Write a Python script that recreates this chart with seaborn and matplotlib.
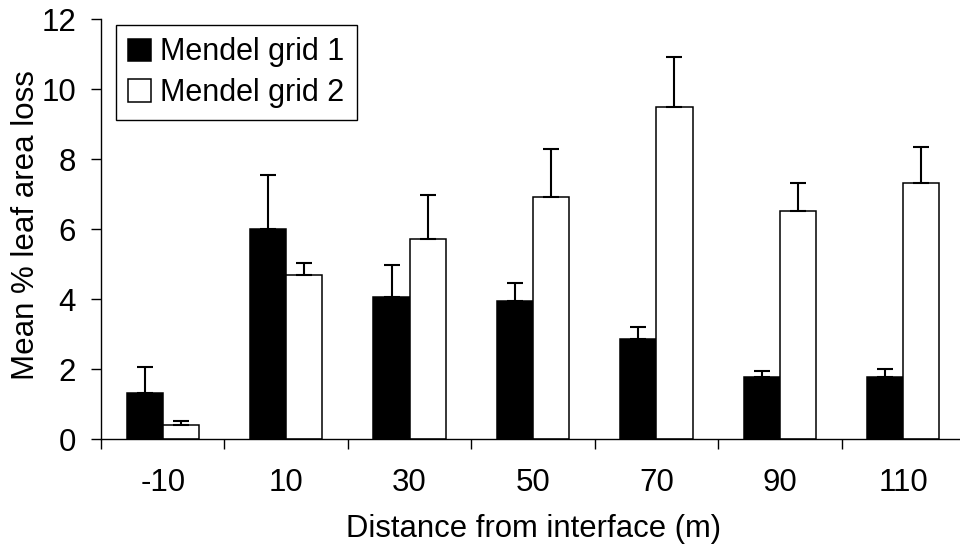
import matplotlib
matplotlib.use("Agg")
import matplotlib.pyplot as plt
import seaborn as sns
import pandas as pd
import numpy as np
from matplotlib.ticker import FixedLocator

categories = ["-10", "10", "30", "50", "70", "90", "110"]
series_names = ["Mendel grid 1", "Mendel grid 2"]
grid1 = [1.33, 6.01, 4.07, 3.96, 2.87, 1.79, 1.79]
grid1_err = [0.74, 1.55, 0.91, 0.50, 0.34, 0.16, 0.22]
grid2 = [0.41, 4.69, 5.72, 6.92, 9.49, 6.52, 7.32]
grid2_err = [0.11, 0.35, 1.26, 1.37, 1.44, 0.80, 1.03]

df = pd.DataFrame({
    "Distance": categories * 2,
    "Series": [series_names[0]] * len(categories) + [series_names[1]] * len(categories),
    "Value": grid1 + grid2,
})

sns.set_theme(style="white")
plt.rcParams["font.family"] = ["Liberation Sans", "DejaVu Sans"]
plt.rcParams.update({
    "text.color": "black",
    "axes.labelcolor": "black",
    "xtick.color": "black",
    "ytick.color": "black",
})

fig = plt.figure(figsize=(9.6, 5.47), dpi=100)
ax = fig.add_axes([101 / 960, 1 - 439.3 / 547, (965 - 101) / 960, (439.3 - 19.3) / 547])

sns.barplot(data=df, x="Distance", y="Value", hue="Series", order=categories,
            hue_order=series_names, palette=["black", "white"], width=0.585,
            edgecolor="black", linewidth=1.1, errorbar=None, ax=ax, saturation=1)

# error bars (upper only)
errs = [grid1_err, grid2_err]
vals = [grid1, grid2]
bar_conts = list(ax.containers)
for i, cont in enumerate(bar_conts):
    xs = [p.get_x() + p.get_width() / 2 for p in cont.patches]
    ax.errorbar(xs, vals[i], yerr=[np.zeros(len(xs)), errs[i]], fmt="none",
                ecolor="black", elinewidth=1.5, capsize=5.6, capthick=1.5, zorder=1)

ax.set_ylim(0, 12)
ax.set_xlim(-0.5, 6.5)
ax.set_yticks([0, 2, 4, 6, 8, 10, 12])
ax.xaxis.set_minor_locator(FixedLocator(np.arange(-0.5, 7.0, 1.0)))
ax.tick_params(axis="x", which="major", length=0, pad=21, labelsize=22.5, labelcolor="black")
ax.tick_params(axis="x", which="minor", length=7, width=1, color="black", direction="out", bottom=True)
ax.tick_params(axis="y", which="major", length=7, width=1, color="black", direction="out", left=True,
               pad=11, labelsize=22.5, labelcolor="black")

for s in ["top", "right"]:
    ax.spines[s].set_visible(False)
for s in ["left", "bottom"]:
    ax.spines[s].set_color("black")
    ax.spines[s].set_linewidth(1)

ax.set_xlabel("Distance from interface (m)", fontsize=22.3, labelpad=11, color="black")
ax.set_ylabel("Mean % leaf area loss", fontsize=22.5, color="black")
ax.yaxis.set_label_coords(-0.069, 0.511)

leg = ax.legend(loc="upper left", bbox_to_anchor=(0.0174, 0.986), borderaxespad=0,
                fontsize=22, frameon=True, fancybox=False, edgecolor="black",
                handlelength=0.75, handleheight=0.75, handletextpad=0.3,
                labelspacing=0.35, borderpad=0.4, title=None)
leg.get_frame().set_linewidth(1)
leg.get_frame().set_alpha(1)
for t in leg.get_texts():
    t.set_color("black")

fig.savefig("out.png", dpi=100)
